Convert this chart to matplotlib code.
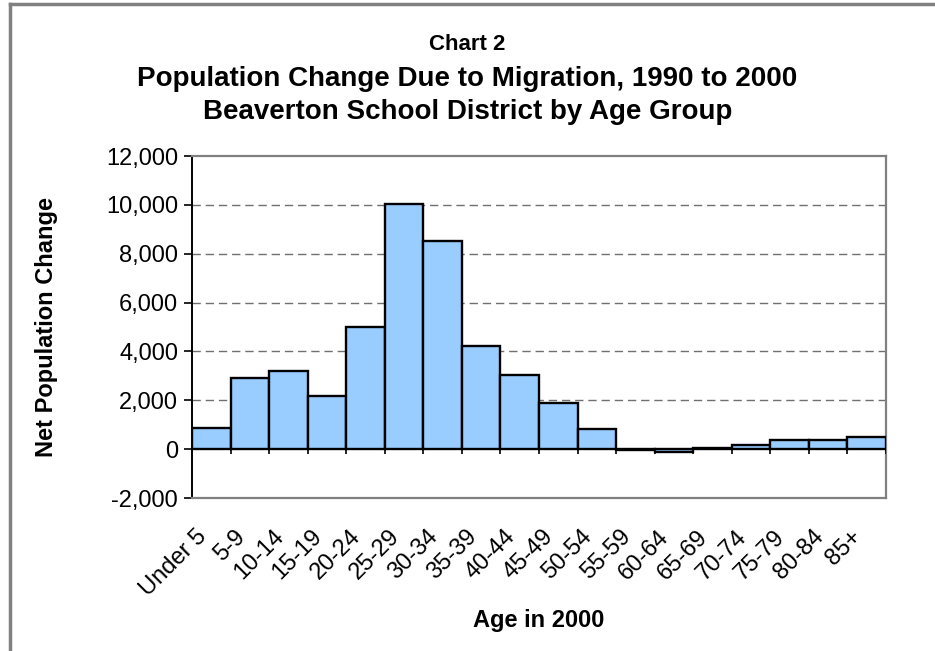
import matplotlib
matplotlib.use("Agg")
import matplotlib.pyplot as plt
import matplotlib.transforms as mtransforms
import numpy as np
from matplotlib.ticker import FuncFormatter

plt.rcParams['font.family'] = ['Liberation Sans', 'DejaVu Sans']

# age groups and net change from migration
age_groups = ["Under 5", "5-9", "10-14", "15-19", "20-24", "25-29", "30-34",
              "35-39", "40-44", "45-49", "50-54", "55-59", "60-64", "65-69",
              "70-74", "75-79", "80-84", "85+"]
net_change = [860, 2900, 3200, 2180, 5000, 10040, 8500, 4220, 3040, 1900,
              820, -20, -120, 60, 150, 370, 380, 480]
y_ticks = [-2000, 0, 2000, 4000, 6000, 8000, 10000, 12000]

fig = plt.figure(figsize=(9.35, 6.51), dpi=100)
ax = fig.add_axes([192/935, 1 - 498/651, 694/935, 342/651])

x = np.arange(len(age_groups))
ax.bar(x, net_change, width=1.0, color="#99CCFF", edgecolor="black", linewidth=1.7, zorder=3)

ax.set_xlim(-0.5, len(age_groups) - 0.5)
ax.set_ylim(-2000, 12000)
ax.set_yticks(y_ticks)
ax.yaxis.set_major_formatter(FuncFormatter(lambda v, p: f"{int(v):,}"))
ax.tick_params(axis='y', direction='out', length=6, width=1.2, labelsize=17, pad=4)

# dashed gridlines between the zero line and the top
for yv in y_ticks:
    if 0 < yv < 12000:
        ax.axhline(yv, color="#707070", linestyle=(0, (6, 3.5)), linewidth=1, zorder=1)

# category axis drawn at zero with tick marks between categories
ax.axhline(0, color="black", linewidth=1.4, zorder=4)
bounds = np.arange(len(age_groups) + 1) - 0.5
ax.vlines(bounds, -180, 0, color="black", linewidth=1.2, zorder=4)

ax.set_xticks(x)
ax.set_xticklabels(age_groups, rotation=45, ha="right", va="top",
                   rotation_mode="anchor", fontsize=17)
ax.tick_params(axis='x', length=0, pad=20)
shift = mtransforms.ScaledTranslation(-16/100, 0, fig.dpi_scale_trans)
for lbl in ax.get_xticklabels():
    lbl.set_transform(lbl.get_transform() + shift)

for s in ["top", "right", "bottom"]:
    ax.spines[s].set_color("#808080")
    ax.spines[s].set_linewidth(1.6)
ax.spines["left"].set_color("black")
ax.spines["left"].set_linewidth(1.4)

ax.set_ylabel("Net Population Change", fontsize=17, fontweight="bold", va="center")
ax.yaxis.set_label_coords(-(192 - 46) / 694, 0.5)
ax.set_xlabel("Age in 2000", fontsize=17, fontweight="bold", va="center")
ax.xaxis.set_label_coords(0.5, -(620 - 498) / 342)

fig.text(0.5, 1 - 45/651, "Chart 2", ha="center", va="center", fontsize=16, fontweight="bold")
fig.text(0.5, 1 - 79/651, "Population Change Due to Migration, 1990 to 2000",
         ha="center", va="center", fontsize=20, fontweight="bold")
fig.text(0.5, 1 - 112/651, "Beaverton School District by Age Group",
         ha="center", va="center", fontsize=20, fontweight="bold")

# chart border (left and top visible)
fig.add_artist(plt.Line2D([10/935, 10/935], [0, 1 - 4/651], color="#808080", linewidth=2.5,
                          transform=fig.transFigure))
fig.add_artist(plt.Line2D([10/935, 1], [1 - 4/651, 1 - 4/651], color="#808080", linewidth=2.5,
                          transform=fig.transFigure))

fig.savefig("out.png", dpi=100)
